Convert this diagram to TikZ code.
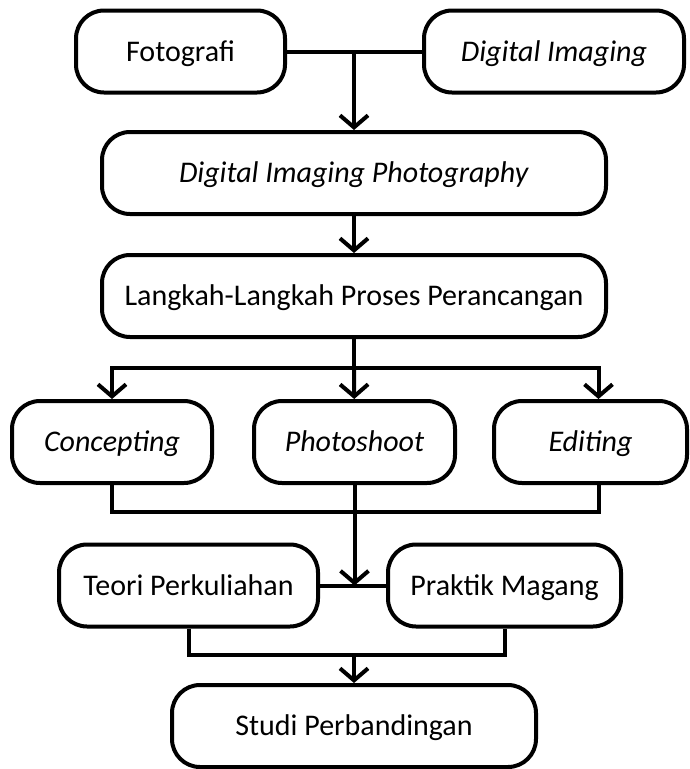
\documentclass[tikz,border=0pt]{standalone}
\usepackage{fontspec}
\setmainfont{Carlito}
\usetikzlibrary{arrows.meta, positioning}

\begin{document}
\begin{tikzpicture}[
            > = {Straight Barb[length=12pt,width=28pt]},
            x = 1pt,
            y = -1pt,
            line width = 4pt,
            node font = \fontsize{30pt}{36pt}\selectfont
        ]

        \tikzstyle{stage}=[
            draw = black,
            rounded corners = 28pt,
            minimum height = 82pt,
            inner sep = 0pt,
            text height = 19pt,
            text depth = 0pt
        ]

        \useasboundingbox (0,0) rectangle (689,769);

        \node[stage, minimum width=209pt] (foto) at (180.5,51.5) {Fotografi};
        \node[stage, minimum width=260pt] (digi) at (554,51.5) {\textit{Digital Imaging}};
        \node[stage, minimum width=504pt] (dip) at (354,173) {\textit{Digital Imaging Photography}};
        \node[stage, minimum width=504pt] (langkah) at (354,296) {Langkah-Langkah Proses Perancangan};

        \node[stage, minimum width=200pt] (concept) at (112,442) {\textit{Concepting}};
        \node[stage, minimum width=201pt] (shoot) at (354.5,442) {\textit{Photoshoot}};
        \node[stage, minimum width=193pt] (edit) at (590.5,442) {\textit{Editing}};

        \node[stage, minimum width=259pt] (teori) at (188.5,585.5) {Teori Perkuliahan};
        \node[stage, minimum width=233pt] (praktik) at (504.5,585.5) {Praktik Magang};
        \node[stage, minimum width=364pt] (studi) at (354,726) {Studi Perbandingan};

        \coordinate (top) at (foto.east -| dip.north);
        \coordinate[below=29pt of langkah] (split);
        \coordinate[below=27pt of shoot] (merge);
        \coordinate (meet) at (teori.east -| shoot.south);
        \coordinate (join) at (354,655);

        \draw (foto) -- (digi);
        \draw[->] (top) -- (dip);
        \draw[->] (dip) -- (langkah);

        % branches
        \draw (langkah) -- (split);
        \draw[->] (split) -| (concept);
        \draw[->] (split) -- (shoot);
        \draw[->] (split) -| ([xshift=8pt]edit.north);

        \draw (concept) |- (merge) -| ([xshift=8pt]edit.south);
        \draw (teori) -- (praktik);
        \draw[->] (shoot) -- (meet);

        \draw (teori) |- (join) -| (praktik);
        \draw[->] (join) -- (studi);

    \end{tikzpicture}
\end{document}
